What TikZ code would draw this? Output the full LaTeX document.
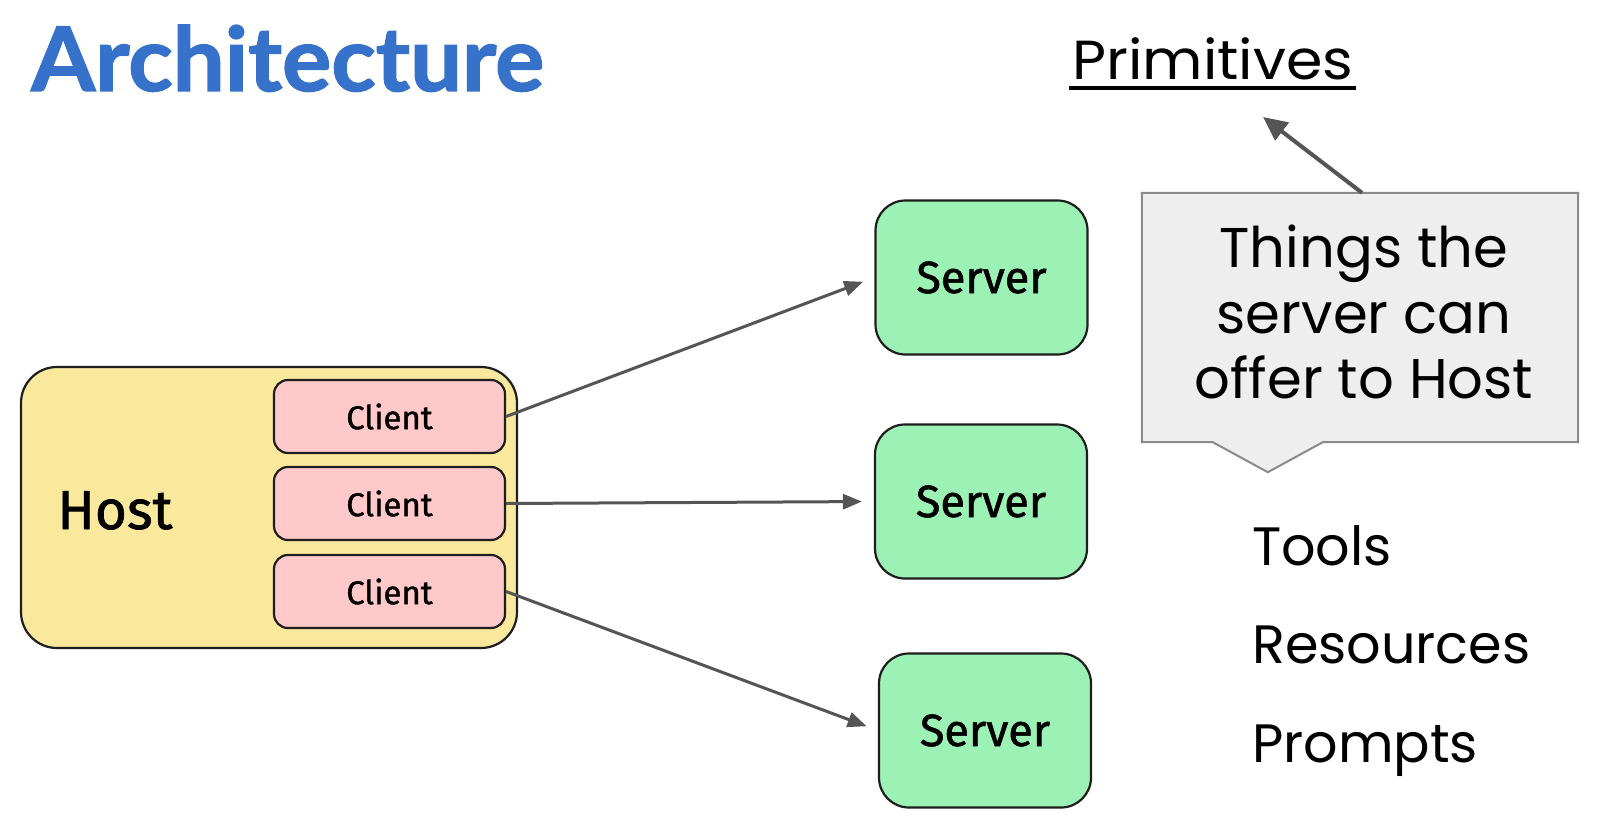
\documentclass[tikz,border=0pt]{standalone}
\usepackage{fontspec}
\setmainfont{Poppins}
\newfontfamily\handfont{Fira Sans}[FakeBold=1.2,AutoFakeBold=1.2]
\newfontfamily\titlefont{Lato}[BoldFeatures={FakeBold=1.5}]
\usepackage{graphicx}
\usetikzlibrary{arrows.meta,calc}

\definecolor{titleblue}{HTML}{3672C9}
\definecolor{hostfill}{HTML}{FAE89C}
\definecolor{clientfill}{HTML}{FFC9C9}
\definecolor{serverfill}{HTML}{9CF2B4}
\definecolor{ink}{HTML}{1E1E1E}
\definecolor{arrowgray}{HTML}{555555}
\definecolor{calloutfill}{HTML}{EEEEEE}
\definecolor{calloutline}{HTML}{8A8A8A}

\begin{document}
\begin{tikzpicture}[x=1pt,y=-1pt,
  sketchbox/.style={draw=ink,line width=2.2pt},
  hostbox/.style={sketchbox,fill=hostfill,rounded corners=36pt,minimum width=496pt,minimum height=281pt,inner sep=0},
  clientbox/.style={sketchbox,fill=clientfill,rounded corners=14pt,minimum width=231pt,minimum height=73pt,inner sep=0,font=\handfont\bfseries\fontsize{33}{38}\selectfont},
  serverbox/.style={sketchbox,fill=serverfill,rounded corners=30pt,minimum width=212pt,minimum height=154pt,inner sep=0,font=\handfont\bfseries\fontsize{45}{50}\selectfont},
  link/.style={draw=arrowgray,line width=3pt,-{Triangle[length=19pt,width=15pt]},shorten >=12pt},
  listtext/.style={anchor=base west,inner sep=0,font=\fontsize{54}{60}\selectfont}
]
\useasboundingbox[fill=white] (0,0) rectangle (1600,821);

% title
\node[anchor=base west,inner sep=0,text=titleblue,font=\titlefont\bfseries\fontsize{89}{100}\selectfont] (title) at (31,91) {\resizebox{513pt}{\height}{Architecture}};

% host with clients
\node[hostbox] (host) at (269,507.5) {};
\node[anchor=base,inner sep=0,font=\handfont\bfseries\fontsize{55}{60}\selectfont] (hostlabel) at (115,529) {Host};
\node[clientbox] (c1) at (389.5,416.5) {Client};
\node[clientbox] (c2) at (389.5,503.5) {Client};
\node[clientbox] (c3) at (389.5,591.5) {Client};

% servers
\node[serverbox] (s1) at (981.5,277.5) {Server};
\node[serverbox] (s2) at (981,501.5) {Server};
\node[serverbox] (s3) at (985,730.5) {Server};

\draw[link] (c1.east) -- (s1.west);
\draw[link] (c2.east) -- (s2.west);
\draw[link] (c3.east) -- (s3.west);

% callout
\node[inner sep=0,minimum width=436pt,minimum height=249pt] (cbox) at (1360,317.5) {};
\draw[draw=calloutline,fill=calloutfill,line width=2pt] (cbox.north west) -- (cbox.north east) -- (cbox.south east) -- ($(cbox.south west)+(181,0)$) -- ($(cbox.south west)+(126,30)$) -- ($(cbox.south west)+(71,0)$) -- (cbox.south west) -- cycle;
\node[inner sep=0,align=center,font=\fontsize{56}{65.5}\selectfont] (things) at (1364,312) {Things the\\server can\\offer to Host};

% primitives
\node[anchor=base west,inner sep=0,font=\fontsize{55}{60}\selectfont] (prim) at (1072,80) {\resizebox{281pt}{\height}{Primitives}};
\draw[line width=4pt] ([xshift=-3pt,yshift=-8pt]prim.base west) -- ([xshift=3pt,yshift=-8pt]prim.base east);
\coordinate (ptip) at (1263,117);
\draw[draw=arrowgray,line width=4pt,-{Triangle[length=24pt,width=22pt]}] ([xshift=2pt]cbox.north) -- (ptip);

% list
\node[listtext] (tools) at (1252,565) {Tools};
\node[listtext] (res) at (1252,663) {Resources};
\node[listtext] (prompts) at (1252,762) {Prompts};
\end{tikzpicture}
\end{document}
